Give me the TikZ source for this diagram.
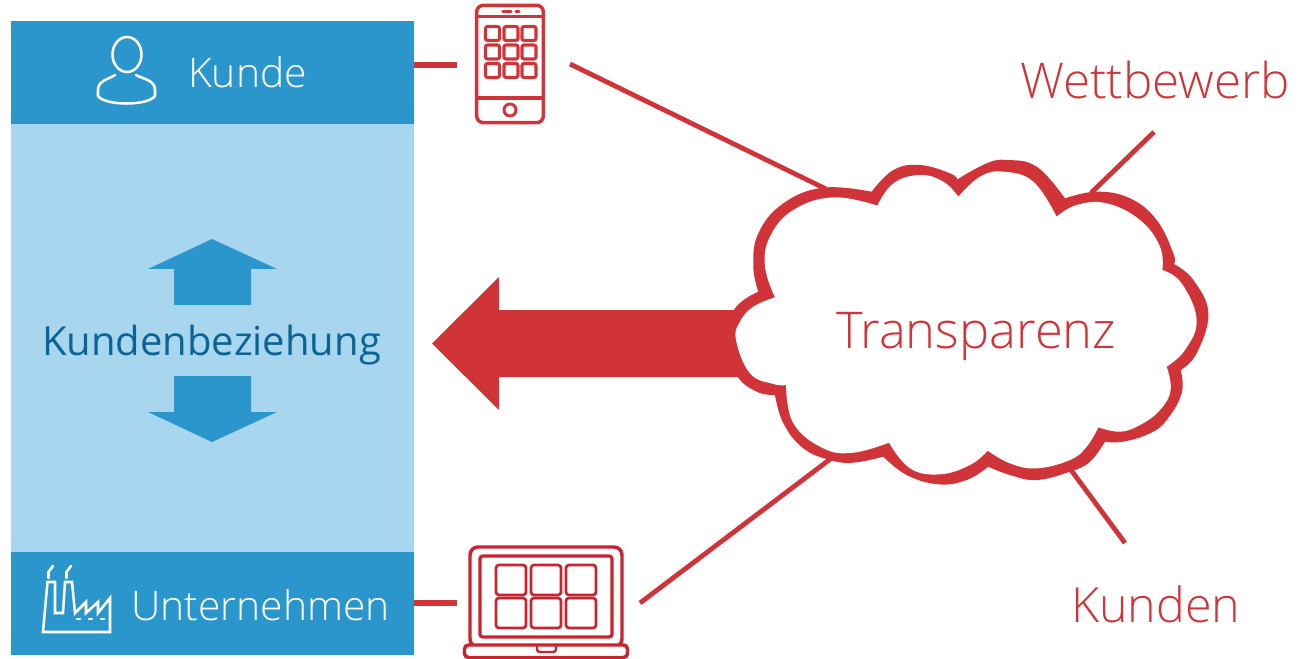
\documentclass[tikz,border=0pt]{standalone}
\usepackage{fontspec}
\setmainfont{Open Sans}
\newfontfamily\lightfont{Open Sans Light}
\definecolor{cblue}{HTML}{2B96CC}
\definecolor{clight}{HTML}{A8D6EE}
\definecolor{cdark}{HTML}{0B6496}
\definecolor{cred}{HTML}{D13438}
\definecolor{cred2}{HTML}{C8232F}
\tikzset{
  x=0.75pt,y=-0.75pt,
  bandbox/.style={fill=cblue,draw=none,inner sep=0pt,minimum width=302.5pt,minimum height=77.25pt},
  midbox/.style={fill=clight,draw=none,inner sep=0pt,minimum width=302.5pt,minimum height=321pt},
  whitetxt/.style={text=white,anchor=base west,inner sep=0pt,font=\lightfont\fontsize{30.6}{30}\selectfont},
  redtxt/.style={text=cred,anchor=base west,inner sep=0pt},
  conn/.style={draw=cred,line width=4.2pt},
  connthin/.style={draw=cred,line width=3.6pt},
  icon/.style={draw=cred,line width=2.3pt,rounded corners=1.5pt},
  icontwo/.style={draw=cred2,line width=2pt,rounded corners=2.2pt},
  wicon/.style={draw=white,line width=1.9pt,line join=round,line cap=round},
  lobe/.style={smooth,tension=.7},
}
\begin{document}
\begin{tikzpicture}
\useasboundingbox (0,0) rectangle (1299,659);
% left column
\node[midbox] (mid) at (212.5,338) {};
\node[bandbox] (kundebox) at (212.5,72.5) {};
\node[bandbox] (untbox) at (212.5,603.5) {};
\node[whitetxt] (kundetxt) at (188,88) {Kunde};
\node[whitetxt] (unttxt) at (131,620) {Unternehmen};
\node[text=cdark,anchor=base west,inner sep=0pt,font=\fontsize{30}{30}\selectfont] (bez) at (42,355) {Kundenbeziehung};
% blue arrows
\fill[cblue] (212,239) -- (277,269) -- (251,269) -- (251,305) -- (174,305) -- (174,269) -- (148,269) -- cycle;
\fill[cblue] (212,442) -- (277,412) -- (251,412) -- (251,376) -- (174,376) -- (174,412) -- (148,412) -- cycle;
% person icon
\draw[wicon] (127,54.5) ellipse (14.5 and 17.5);
\draw[wicon] (115,75) .. controls (110,79) and (98,80) .. (98,90) -- (98,96)
  .. controls (105,106) and (148,106) .. (155,96) -- (155,90)
  .. controls (155,80) and (143,79) .. (136,75);
% factory icon
\draw[wicon,line join=miter] (43,632) -- (47.5,582) -- (55,582) -- (55,613) -- (63,613) -- (65,582) -- (72,582) -- (75,613)
  -- (86,602) -- (86,613) -- (98,602) -- (98,613) -- (110,598) -- (110,632) -- cycle;
\draw[wicon] (48.5,578) -- (48.5,572) -- (53,566);
\draw[wicon] (66.5,578) -- (66.5,572) -- (71,566);
\draw[wicon] (77,619) -- (80,619);
\draw[wicon] (89,619) -- (92,619);
\draw[wicon] (101,619) -- (104,619);
% big red arrow
\fill[cred] (432,343.5) -- (499,277) -- (499,310) -- (745,310) -- (745,377) -- (499,377) -- (499,410) -- cycle;
% connector free ends
\coordinate (phoneleft) at (457,65);
\coordinate (kundeout) at (414,65);
\coordinate (phoneout) at (570,64);
\coordinate (cloudtl) at (826,189);
\coordinate (cloudtr) at (1091,193);
\coordinate (wettend) at (1154,132);
\coordinate (cloudbr) at (1071,470);
\coordinate (kundenend) at (1125,543);
\coordinate (cloudbl) at (833,457);
\coordinate (laptopout) at (640,603);
\coordinate (untout) at (414,603);
\coordinate (laptopleft) at (457,603);
\draw[conn] (kundeout) -- (phoneleft);
\draw[conn] (untout) -- (laptopleft);
\draw[connthin] (phoneout) -- (cloudtl);
\draw[connthin] (wettend) -- (cloudtr);
\draw[connthin] (kundenend) -- (cloudbr);
\draw[connthin] (laptopout) -- (cloudbl);
% cloud: outer contour in red, inner contour in white
\begin{scope}[shift={(720,140)},x=0.25pt,y=-0.25pt]
\fill[cred]
 plot[lobe] coordinates {(115,455) (100,380) (115,280) (190,190) (310,143) (455,155)}
 -- plot[lobe] coordinates {(455,155) (520,90) (600,75) (690,100) (712,118)}
 -- plot[lobe] coordinates {(712,118) (800,70) (860,60) (950,80) (1035,175)}
 -- plot[lobe] coordinates {(1035,175) (1130,155) (1230,175) (1310,240) (1360,340) (1362,372)}
 -- plot[lobe] coordinates {(1362,372) (1420,420) (1465,520) (1430,640) (1382,690)}
 -- plot[lobe] coordinates {(1382,690) (1385,760) (1340,840) (1290,880) (1210,905) (1155,905)}
 -- plot[lobe] coordinates {(1155,905) (1110,965) (1050,995) (950,1020) (870,1005) (805,980)}
 -- plot[lobe] coordinates {(805,980) (740,1020) (655,1033) (560,1005) (490,950)}
 -- plot[lobe] coordinates {(490,950) (400,968) (330,960) (250,925) (190,850) (165,765)}
 -- plot[lobe] coordinates {(165,765) (110,755) (50,705) (18,600) (45,505) (115,455)}
 -- cycle;
\fill[white]
 plot[lobe] coordinates {(165,472) (135,380) (150,290) (220,210) (340,172) (472,197)}
 -- plot[lobe] coordinates {(472,197) (520,130) (600,105) (670,125) (715,170)}
 -- plot[lobe] coordinates {(715,170) (780,110) (850,95) (940,125) (1010,230)}
 -- plot[lobe] coordinates {(1010,230) (1070,195) (1160,190) (1260,240) (1320,320) (1327,390)}
 -- plot[lobe] coordinates {(1327,390) (1385,430) (1430,540) (1395,630) (1340,680)}
 -- plot[lobe] coordinates {(1340,680) (1352,750) (1320,810) (1260,855) (1200,875) (1135,862)}
 -- plot[lobe] coordinates {(1135,862) (1100,920) (1050,960) (950,985) (870,970) (803,932)}
 -- plot[lobe] coordinates {(803,932) (750,975) (660,1003) (570,985) (507,908)}
 -- plot[lobe] coordinates {(507,908) (400,938) (310,925) (220,850) (198,735)}
 -- plot[lobe] coordinates {(198,735) (160,732) (90,700) (48,600) (60,545) (100,500) (165,472)}
 -- cycle;
\end{scope}
\node[redtxt,font=\lightfont\fontsize{38}{38}\selectfont] (transp) at (836,348) {Transparenz};
\node[redtxt,font=\lightfont\fontsize{37}{37}\selectfont] (wett) at (1020,99) {Wettbewerb};
\node[redtxt,font=\lightfont\fontsize{36.3}{36}\selectfont] (kunden) at (1071,622) {Kunden};
% phone
\node[draw=cred,line width=2.6pt,rounded corners=5pt,minimum width=50pt,minimum height=88pt,inner sep=0pt] (phone) at (510,64) {};
\draw[icon] (477,16.5) -- (543,16.5);
\draw[icon] (477,98) -- (543,98);
\draw[cred,line width=2.4pt,line cap=round] (503,11.5) -- (511,11.5);
\draw[cred,line width=2.4pt,line cap=round] (516,11.5) -- (519,11.5);
\foreach \cx in {485.5,504,522}{
  \foreach \cy in {26.5,45,63.5}{
    \draw[icon] (\cx,\cy) rectangle ++(14,14);
  }
}
\draw[cred,line width=2.2pt] (510,110) circle (6);
% laptop
\node[draw=cred2,line width=2.6pt,rounded corners=6pt,minimum width=114pt,minimum height=75pt,inner sep=0pt] (lid) at (546,597) {};
\draw[draw=cred2,line width=2.4pt,rounded corners=2pt] (480,556) rectangle (612,637);
\foreach \cx in {496,531,566}{
  \foreach \cy in {565,598}{
    \draw[icontwo] (\cx,\cy) rectangle ++(30,30);
  }
}
\draw[draw=cred2,fill=white,line width=2.6pt,rounded corners=3pt] (464.5,645) -- (627.5,645) -- (627.5,657.5) -- (464.5,657.5) -- cycle;
\draw[draw=cred2,line width=1.8pt,rounded corners=2pt] (537,645) -- (537,652) -- (556,652) -- (556,645);
\end{tikzpicture}
\end{document}
